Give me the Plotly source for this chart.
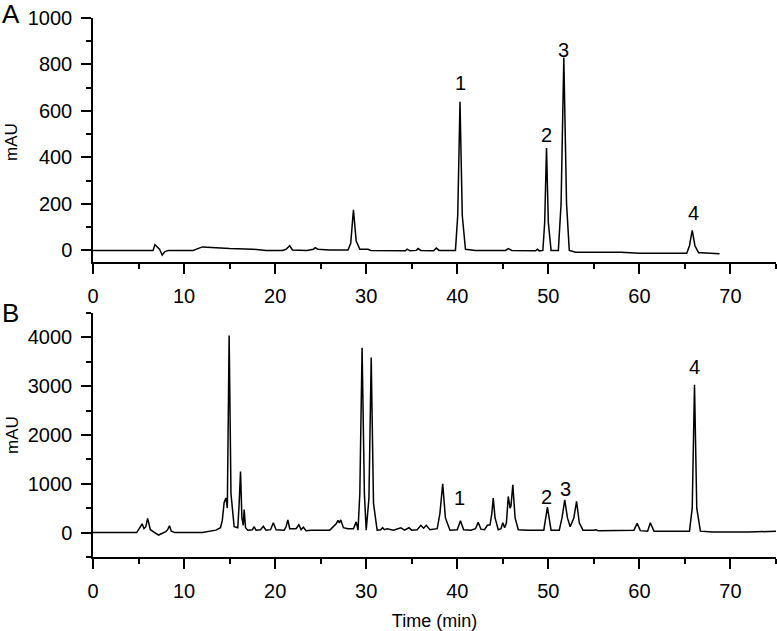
import plotly.graph_objects as go
from plotly.subplots import make_subplots

# Cromatograma A (patrón)
t_a = [0, 6.6, 6.8, 7.0, 7.3, 7.6, 7.9, 8.3, 11.0, 12.0,
       13.0, 15.0, 17.5, 19.0, 20.8, 21.2, 21.6, 21.9, 23.5, 24.2,
       24.4, 24.7, 25.5, 26.0, 28.0, 28.3, 28.6, 28.9, 29.3, 30.0,
       30.2, 30.5, 32.0, 34.3, 34.5, 34.8, 35.5, 35.7, 36.0, 37.4,
       37.7, 38.0, 39.8, 40.05, 40.3, 40.55, 40.9, 42.0, 45.3, 45.6,
       46.0, 48.6, 48.8, 49.0, 49.4, 49.6, 49.8, 50.0, 50.3, 51.1,
       51.4, 51.7, 52.0, 52.3, 53.0, 58.0, 60.0, 65.2, 65.5, 65.8,
       66.1, 66.5, 66.8, 68.8]
mau_a = [0, 0, 25, 15, 5, -20, -5, 0, 0, 15,
         12, 8, 5, 0, 0, 5, 20, 2, 0, 5,
         12, 5, 3, 2, 2, 30, 175, 40, 5, 3,
         5, 0, 0, -2, 5, -2, 0, 8, 0, -2,
         10, 0, 0, 150, 640, 150, 5, 0, 0, 8,
         0, -2, 5, -2, 0, 120, 440, 120, 0, 0,
         200, 830, 200, 0, -8, -8, -12, -12, 20, 86,
         20, -10, -10, -15]

# Cromatograma B (muestra)
t_b = [0, 1.5, 4.8, 5.2, 5.4, 5.6, 5.8, 6.0, 6.3, 7.2,
       8.0, 8.2, 8.4, 8.6, 9.0, 12.0, 13.5, 13.8, 14.0, 14.2,
       14.4, 14.6, 14.75, 14.95, 15.15, 15.5, 15.9, 16.05, 16.2, 16.35,
       16.5, 16.6, 16.75, 17.0, 17.5, 17.7, 17.9, 18.4, 18.7, 19.0,
       19.5, 19.8, 20.1, 21.0, 21.2, 21.4, 21.6, 22.3, 22.6, 22.85,
       23.1, 23.4, 24.0, 26.0, 26.5, 26.7, 26.9, 27.05, 27.2, 27.5,
       28.0, 28.6, 28.9, 29.1, 29.3, 29.55, 29.8, 30.0, 30.3, 30.55,
       30.8, 31.2, 31.6, 31.8, 32.0, 32.3, 33.0, 33.8, 34.2, 34.7,
       35.0, 35.6, 36.0, 36.3, 36.6, 37.0, 37.8, 38.1, 38.4, 38.7,
       39.2, 40.0, 40.35, 40.7, 41.5, 42.0, 42.3, 42.6, 43.0, 43.3,
       43.6, 43.8, 43.95, 44.15, 44.5, 44.8, 45.0, 45.2, 45.4, 45.6,
       45.8, 45.9, 46.1, 46.35, 46.7, 47.7, 49.5, 49.9, 50.3, 51.2,
       51.5, 51.8, 52.1, 52.4, 52.8, 53.1, 53.4, 53.8, 55.0, 55.2,
       55.5, 57.2, 58.0, 59.4, 59.75, 60.1, 60.9, 61.2, 61.6, 65.5,
       65.8, 66.05, 66.3, 66.7, 68.0, 72.0, 75.0]
mau_b = [0, 0, 0, 120, 180, 80, 120, 290, 60, -50,
         20, 60, 140, 30, 0, 0, 50, 80, 100, 250,
         620, 710, 500, 4040, 800, 120, 100, 600, 1250, 300,
         150, 470, 100, 50, 60, 120, 50, 60, 130, 50,
         60, 200, 60, 50, 120, 260, 80, 80, 160, 60,
         110, 40, 50, 50, 150, 180, 250, 200, 260, 100,
         80, 80, 220, 50, 800, 3790, 800, 50, 700, 3590,
         600, 50, 60, 100, 60, 80, 50, 100, 50, 100,
         50, 60, 150, 90, 150, 60, 80, 400, 1000, 300,
         50, 60, 245, 60, 50, 80, 210, 70, 60, 150,
         160, 400, 710, 300, 60, 80, 200, 100, 200, 740,
         500, 550, 980, 300, 60, 50, 50, 520, 50, 50,
         300, 670, 300, 120, 300, 640, 200, 50, 50, 60,
         40, 40, 40, 50, 190, 40, 30, 200, 30, 30,
         500, 3030, 500, 30, 10, 10, 30]

# Etiquetas de picos
pico_txt = ["1", "2", "3", "4"]
pico_a_t = [40.3, 49.8, 51.7, 65.9]
pico_a_y = [720, 496, 862, 160]
pico_b_t = [40.2, 49.8, 51.9, 66.0]
pico_b_y = [700, 725, 900, 3390]

fuente = "Arial, Liberation Sans, sans-serif"

fig = make_subplots(rows=2, cols=1, vertical_spacing=0.0946)

fig.add_trace(go.Scatter(x=t_a, y=mau_a, mode="lines",
                         line=dict(color="black", width=1.5)), row=1, col=1)
fig.add_trace(go.Scatter(x=t_b, y=mau_b, mode="lines",
                         line=dict(color="black", width=1.5)), row=2, col=1)

ejes_x = dict(range=[0, 75], dtick=10, tick0=0, showgrid=False, zeroline=False,
              showline=True, linecolor="black", linewidth=1.5, automargin=False,
              ticks="outside", ticklen=10, tickwidth=1.5, tickcolor="black",
              ticklabelstandoff=5,
              minor=dict(dtick=5, ticks="outside", ticklen=5, tickwidth=1.5, tickcolor="black"),
              tickfont=dict(size=20, color="black", family=fuente))
fig.update_xaxes(**ejes_x)
fig.update_xaxes(title=dict(text="Time (min)", font=dict(size=18, color="black", family=fuente),
                            standoff=16), row=2, col=1)

ejes_y = dict(showgrid=False, zeroline=False, showline=True, linecolor="black", linewidth=1.5,
              automargin=False, ticks="outside", ticklen=10, tickwidth=1.5, tickcolor="black",
              ticklabelstandoff=5,
              tickfont=dict(size=20, color="black", family=fuente))
fig.update_yaxes(**ejes_y)
fig.update_yaxes(range=[-50, 1000], dtick=200, tick0=0,
                 minor=dict(dtick=100, ticks="outside", ticklen=5, tickwidth=1.5, tickcolor="black"),
                 row=1, col=1)
fig.update_yaxes(range=[-500, 4500], dtick=1000, tick0=0,
                 minor=dict(dtick=500, ticks="outside", ticklen=5, tickwidth=1.5, tickcolor="black"),
                 row=2, col=1)

anotaciones = []
for txt, tx, ty in zip(pico_txt, pico_a_t, pico_a_y):
    anotaciones.append(dict(x=tx, y=ty, xref="x", yref="y", text=txt, showarrow=False,
                            font=dict(size=20, color="black", family=fuente)))
for txt, tx, ty in zip(pico_txt, pico_b_t, pico_b_y):
    anotaciones.append(dict(x=tx, y=ty, xref="x2", yref="y2", text=txt, showarrow=False,
                            font=dict(size=20, color="black", family=fuente)))

# Letras de panel y títulos del eje Y
anotaciones += [
    dict(x=-0.120, y=1.0074, xref="paper", yref="paper", text="A", showarrow=False,
         xanchor="center", yanchor="middle", font=dict(size=26, color="black", family=fuente)),
    dict(x=-0.1215, y=0.4536, xref="paper", yref="paper", text="B", showarrow=False,
         xanchor="center", yanchor="middle", font=dict(size=26, color="black", family=fuente)),
    dict(x=-0.1186, y=0.770, xref="paper", yref="paper", text="mAU", textangle=-90, showarrow=False,
         xanchor="center", yanchor="middle", font=dict(size=17, color="black", family=fuente)),
    dict(x=-0.1186, y=0.2263, xref="paper", yref="paper", text="mAU", textangle=-90, showarrow=False,
         xanchor="center", yanchor="middle", font=dict(size=17, color="black", family=fuente)),
]

fig.update_layout(
    width=777, height=631,
    margin=dict(l=93, r=1, t=18, b=74),
    plot_bgcolor="white", paper_bgcolor="white",
    showlegend=False,
    annotations=anotaciones,
    font=dict(family=fuente, color="black"),
)

# quitar el margen por defecto del <body> para que la figura empiece en (0, 0)
fig.write_html("out.html", config={"displayModeBar": False},
               post_script="document.body.style.margin='0';")
